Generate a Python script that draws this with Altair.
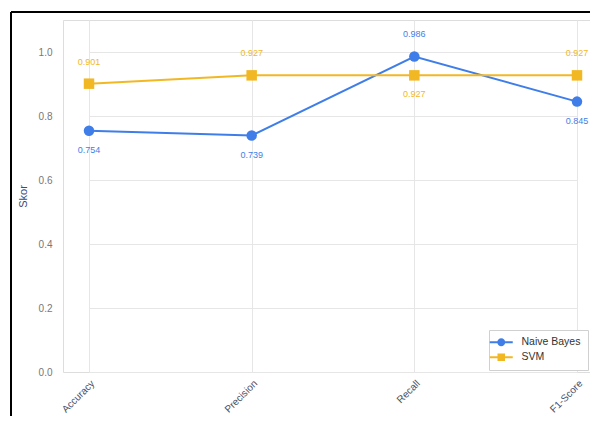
import altair as alt
import pandas as pd

metrics = ["Accuracy", "Precision", "Recall", "F1-Score"]
nb_scores = [0.754, 0.739, 0.986, 0.845]
svm_scores = [0.901, 0.927, 0.927, 0.927]
series_names = ["Naive Bayes", "SVM"]
nb_label_pos = ["below", "below", "above", "below"]
svm_label_pos = ["above", "above", "below", "above"]

rows = []
for m, v, p in zip(metrics, nb_scores, nb_label_pos):
    rows.append({"Metric": m, "Score": v, "Model": "Naive Bayes", "pos": p, "lbl": f"{v:.3f}"})
for m, v, p in zip(metrics, svm_scores, svm_label_pos):
    rows.append({"Metric": m, "Score": v, "Model": "SVM", "pos": p, "lbl": f"{v:.3f}"})
df = pd.DataFrame(rows)

BLUE = "#3F7EE8"
YELLOW = "#F2B824"
FONT = "Liberation Sans"

x_enc = alt.X("Metric:N", sort=metrics, title=None,
              scale=alt.Scale(type="point", padding=0, range=[26, 514]),
              axis=alt.Axis(labelAngle=-45, labelAlign="right", labelBaseline="top",
                            labelColor="#4a4f66", labelFontSize=10, grid=True,
                            gridColor="#e6e6e6", ticks=False, domain=False,
                            labelPadding=6))
y_enc = alt.Y("Score:Q", title="Skor",
              scale=alt.Scale(domain=[0, 1.1], nice=False),
              axis=alt.Axis(values=[0, 0.2, 0.4, 0.6, 0.8, 1.0], format=".1f",
                            labelColor="#777", labelFontSize=10, gridColor="#e6e6e6",
                            ticks=False, domain=False, titleColor="#3b4a80",
                            titleFontSize=11, titleFontWeight="normal", labelPadding=11,
                            titlePadding=10))
color_scale = alt.Scale(domain=series_names, range=[BLUE, YELLOW])

base = alt.Chart(df)

lines = base.mark_line(strokeWidth=2).encode(
    x=x_enc, y=y_enc,
    color=alt.Color("Model:N", scale=color_scale, legend=None),
)
points = base.mark_point(filled=True, size=110, opacity=1).encode(
    x=x_enc, y=y_enc,
    color=alt.Color("Model:N", scale=color_scale, legend=None),
    shape=alt.Shape("Model:N", scale=alt.Scale(domain=series_names, range=["circle", "square"]), legend=None),
)

circle_path = "M-2.3,-0.2H2.3V0.2H-2.3Z M0.8,0A0.8,0.8 0 1,1 -0.8,0A0.8,0.8 0 1,1 0.8,0Z"
square_path = "M-2.3,-0.2H2.3V0.2H-2.3Z M-0.75,-0.75H0.75V0.75H-0.75Z"

carrier = base.mark_point(filled=True, size=0, opacity=1).encode(
    x=x_enc, y=y_enc,
    color=alt.Color("Model:N", scale=color_scale,
                    legend=alt.Legend(title=None, orient="bottom-right", offset=2,
                                      symbolOpacity=1, symbolSize=100,
                                      symbolStrokeWidth=0,
                                      labelFontSize=10.5, labelColor="#333",
                                      strokeColor="#d0d0d0", fillColor="white",
                                      padding=7, rowPadding=4, labelOffset=15)),
    shape=alt.Shape("Model:N", scale=alt.Scale(domain=series_names, range=[circle_path, square_path])),
)

above = base.transform_filter(alt.datum.pos == "above").mark_text(
    dy=-22, fontSize=9, font=FONT).encode(
    x=x_enc, y=y_enc, text="lbl:N",
    color=alt.Color("Model:N", scale=color_scale, legend=None),
)
below = base.transform_filter(alt.datum.pos == "below").mark_text(
    dy=19, fontSize=9, font=FONT).encode(
    x=x_enc, y=y_enc, text="lbl:N",
    color=alt.Color("Model:N", scale=color_scale, legend=None),
)

frame_top = alt.Chart(pd.DataFrame({"a": [0]})).mark_rule(color="black", strokeWidth=2).encode(
    x=alt.value(-52), x2=alt.value(560), y=alt.value(-8))
frame_left = alt.Chart(pd.DataFrame({"a": [0]})).mark_rule(color="black", strokeWidth=2).encode(
    x=alt.value(-52), y=alt.value(-8), y2=alt.value(400))

chart = alt.layer(lines, points, above, below, carrier, frame_top, frame_left).resolve_scale(
    color="independent", shape="independent"
).properties(
    width=527, height=352,
    autosize=alt.AutoSizeParams(type="none"),
    padding={"left": 55, "top": 12, "right": 0, "bottom": 44},
).configure_view(stroke="#e3e3e3").configure(font=FONT)

chart.save("out.html", embed_options={"renderer": "svg", "actions": False})
